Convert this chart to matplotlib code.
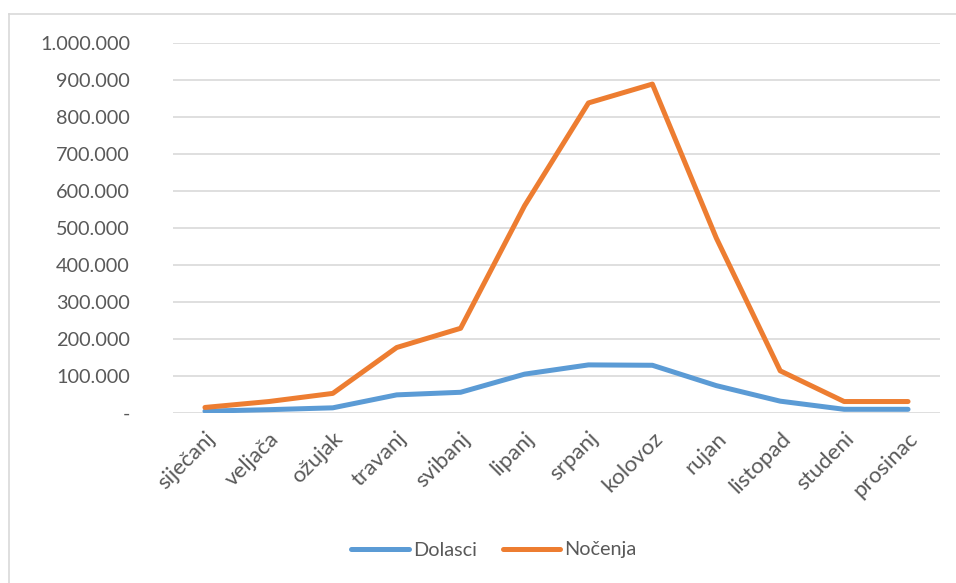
import matplotlib
matplotlib.use("Agg")
import matplotlib.pyplot as plt
from matplotlib.lines import Line2D
from matplotlib.ticker import FuncFormatter

## DATA ##
months = ["siječanj", "veljača", "ožujak", "travanj", "svibanj", "lipanj",
          "srpanj", "kolovoz", "rujan", "listopad", "studeni", "prosinac"]
dolasci = [5000, 9000, 14000, 49000, 56000, 105000,
           130000, 129000, 74000, 32000, 10000, 10000]
nocenja = [15000, 31000, 53000, 177000, 229000, 560000,
           838000, 889000, 473000, 114000, 31000, 31000]

BLUE = "#5B9BD5"
ORANGE = "#ED7D31"
TEXT = "#595959"
GRID = "#D9D9D9"

W, H = 956, 583
plt.rcParams["font.family"] = ["Lato", "DejaVu Sans"]

fig = plt.figure(figsize=(W/100, H/100), dpi=100)
ax = fig.add_axes([173/W, 1-413/H, (940-173)/W, (413-43)/H])

x = range(len(months))
ax.plot(x, dolasci, color=BLUE, linewidth=3.6, solid_capstyle="round", label="Dolasci")
ax.plot(x, nocenja, color=ORANGE, linewidth=3.6, solid_capstyle="round", label="Nočenja")

ax.set_xlim(-0.5, len(months)-0.5)
ax.set_ylim(0, 1000000)
ax.set_yticks(range(0, 1000001, 100000))

def thousands(v, pos):
    if v == 0:
        return "-"
    return f"{int(v):,}".replace(",", ".")

ax.yaxis.set_major_formatter(FuncFormatter(thousands))
ax.set_xticks(list(x))
ax.set_xticklabels(months, rotation=45, ha="right", rotation_mode="anchor")

ax.grid(axis="y", color=GRID, linewidth=1.2)
ax.set_axisbelow(True)
for s in ax.spines.values():
    s.set_visible(False)
ax.tick_params(axis="both", length=0, colors=TEXT, labelsize=14.3)
ax.tick_params(axis="x", labelsize=16, pad=11)
ax.tick_params(axis="y", pad=31)

# chart frame (top and left edges visible)
fig.add_artist(Line2D([9/W, 1], [1-14/H, 1-14/H], color="#D9D9D9", linewidth=1.2))
fig.add_artist(Line2D([9/W, 9/W], [0, 1-14/H], color="#D9D9D9", linewidth=1.2))

ax.legend(loc="center", bbox_to_anchor=(494/W, 1-550/H), bbox_transform=fig.transFigure,
          ncol=2, frameon=False, fontsize=14.3, labelcolor=TEXT,
          handlelength=2.9, handletextpad=0.2, columnspacing=1.3)

fig.savefig("out.png", dpi=100)
